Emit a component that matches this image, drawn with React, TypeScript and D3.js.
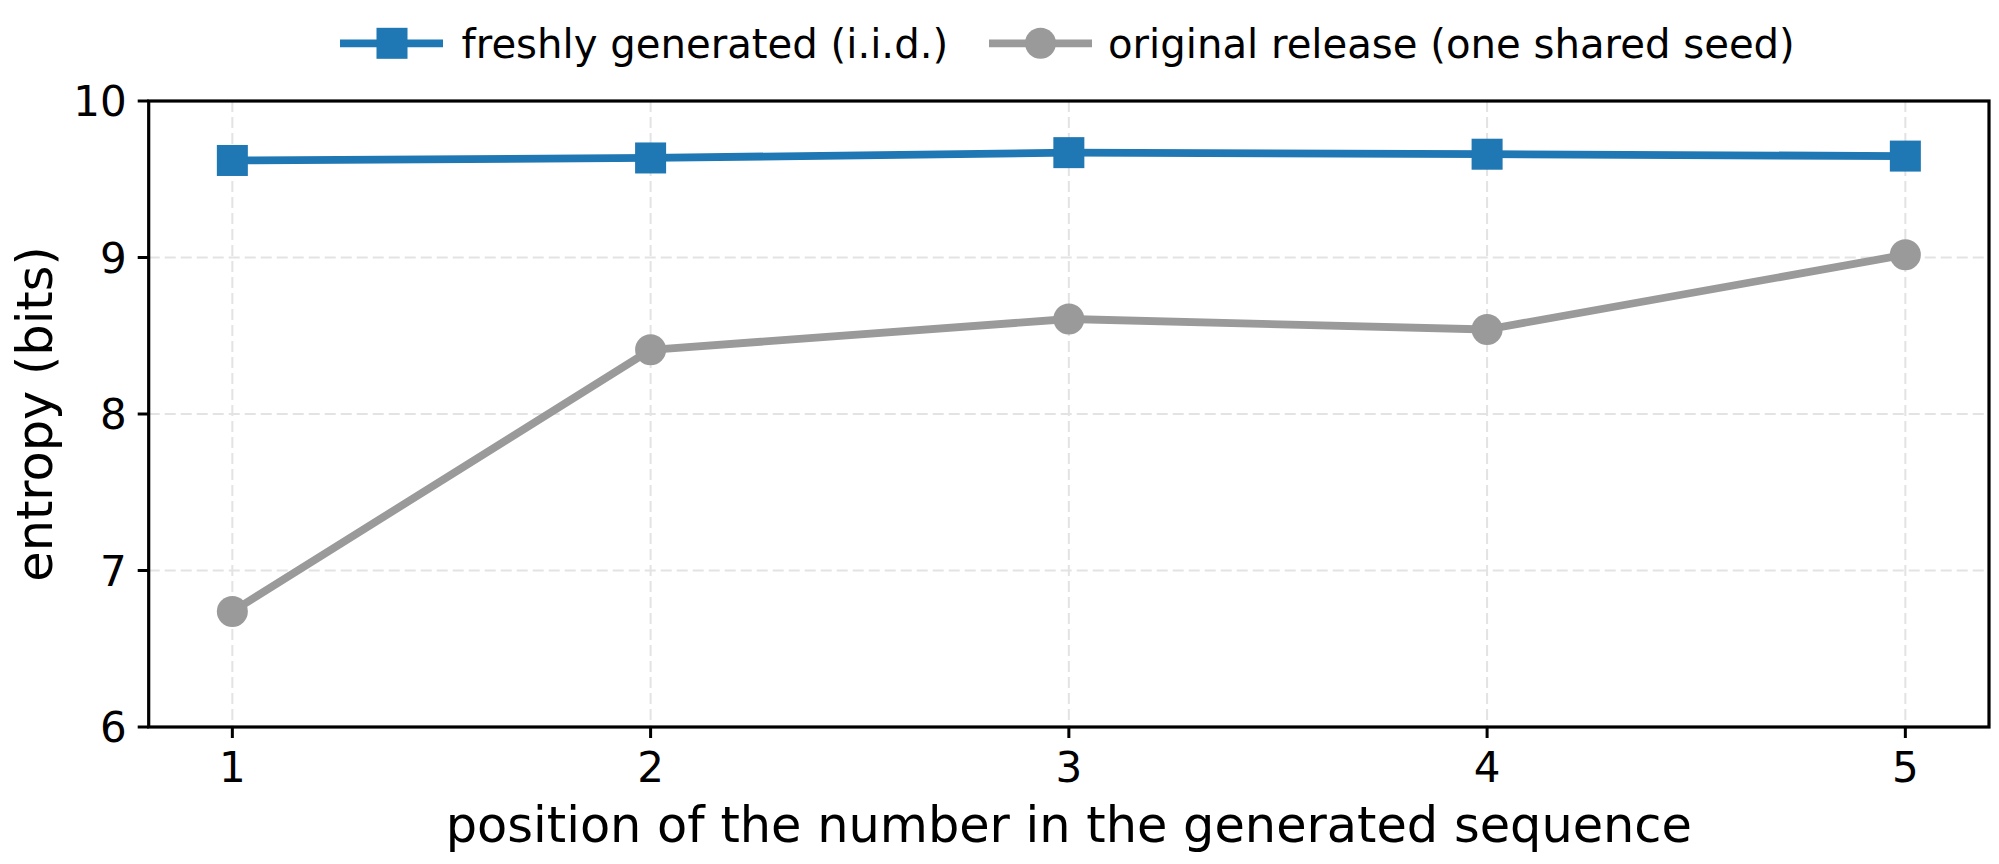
import React from "react";
import * as d3 from "d3";

const positions = [1, 2, 3, 4, 5];
const freshEntropy = [9.62, 9.636, 9.67, 9.66, 9.648];
const originalEntropy = [6.738, 8.41, 8.607, 8.54, 9.018];
const xTicks = [1, 2, 3, 4, 5];
const yTicks = [6, 7, 8, 9, 10];
const seriesNames = ["freshly generated (i.i.d.)", "original release (one shared seed)"];

const W = 1999;
const H = 864;
const L = 148.7, R = 1989, T = 101, B = 727;
const BLUE = "#1f77b4";
const GRAY = "#9a9a9a";
const FONT = "DejaVu Sans, sans-serif";

export default function App() {
  const x = d3.scaleLinear().domain([0.8, 5.2]).range([L, R]);
  const y = d3.scaleLinear().domain([6, 10]).range([B, T]);
  const line = d3
    .line<[number, number]>()
    .x((d) => x(d[0]))
    .y((d) => y(d[1]));
  const fresh = positions.map((p, i) => [p, freshEntropy[i]] as [number, number]);
  const orig = positions.map((p, i) => [p, originalEntropy[i]] as [number, number]);
  const ms = 31;
  const lw = 7.8;

  return (
    <svg
      width={W}
      height={H}
      style={{ position: "absolute", left: 0, top: 0, background: "#fff" }}
      fontFamily={FONT}
    >
      <rect x={0} y={0} width={W} height={H} fill="#fff" />
      {/* grid */}
      <g stroke="#e3e3e3" strokeWidth={2} strokeDasharray="11,5">
        {xTicks.map((t) => (
          <line key={"gx" + t} x1={x(t)} x2={x(t)} y1={T} y2={B} />
        ))}
        {yTicks.map((t) => (
          <line key={"gy" + t} x1={L} x2={R} y1={y(t)} y2={y(t)} />
        ))}
      </g>
      {/* series */}
      <path d={line(orig) || ""} fill="none" stroke={GRAY} strokeWidth={lw} strokeLinejoin="round" />
      {orig.map((d, i) => (
        <circle key={"o" + i} cx={x(d[0])} cy={y(d[1])} r={ms / 2} fill={GRAY} />
      ))}
      <path d={line(fresh) || ""} fill="none" stroke={BLUE} strokeWidth={lw} strokeLinejoin="round" />
      {fresh.map((d, i) => (
        <rect
          key={"f" + i}
          x={x(d[0]) - ms / 2}
          y={y(d[1]) - ms / 2}
          width={ms}
          height={ms}
          fill={BLUE}
        />
      ))}
      {/* spines */}
      <rect x={L} y={T} width={R - L} height={B - T} fill="none" stroke="#000" strokeWidth={3.2} />
      {/* x ticks */}
      {xTicks.map((t) => (
        <g key={"xt" + t}>
          <line x1={x(t)} x2={x(t)} y1={B} y2={B + 11} stroke="#000" strokeWidth={3} />
          <text x={x(t)} y={782} textAnchor="middle" fontSize={42} fill="#000">
            {t}
          </text>
        </g>
      ))}
      {/* y ticks */}
      {yTicks.map((t) => (
        <g key={"yt" + t}>
          <line x1={L - 11} x2={L} y1={y(t)} y2={y(t)} stroke="#000" strokeWidth={3} />
          <text x={L - 22} y={y(t) + 15.3} textAnchor="end" fontSize={42} fill="#000">
            {t}
          </text>
        </g>
      ))}
      {/* axis labels */}
      <text x={(L + R) / 2} y={842} textAnchor="middle" fontSize={49.4} fill="#000">
        position of the number in the generated sequence
      </text>
      <text
        transform={`translate(51.7, ${(T + B) / 2}) rotate(-90)`}
        textAnchor="middle"
        fontSize={49.4}
        fill="#000"
      >
        entropy (bits)
      </text>
      {/* legend */}
      <g>
        <line x1={340} x2={443} y1={43.3} y2={43.3} stroke={BLUE} strokeWidth={lw} />
        <rect x={392 - ms / 2} y={43.3 - ms / 2} width={ms} height={ms} fill={BLUE} />
        <text x={461.6} y={57.5} fontSize={40.2} fill="#000">
          {seriesNames[0]}
        </text>
        <line x1={989} x2={1092} y1={43.3} y2={43.3} stroke={GRAY} strokeWidth={lw} />
        <circle cx={1040.5} cy={43.3} r={ms / 2} fill={GRAY} />
        <text x={1108} y={57.5} fontSize={40.2} fill="#000">
          {seriesNames[1]}
        </text>
      </g>
    </svg>
  );
}
